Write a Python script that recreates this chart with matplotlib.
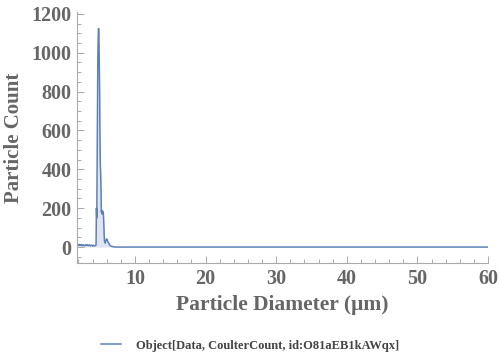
import matplotlib
matplotlib.use('Agg')
import matplotlib.pyplot as plt
from matplotlib.ticker import MultipleLocator

# Coulter counter histogram: diameter (um) vs particle count
diameter = [1.8, 1.9, 2.0, 2.1, 2.2, 2.3, 2.4, 2.5, 2.6, 2.7, 2.8, 2.9, 3.0,
            3.1, 3.2, 3.3, 3.4, 3.5, 3.6, 3.7, 3.8, 3.9, 4.0, 4.1, 4.2, 4.3,
            4.4, 4.5, 4.55, 4.6, 4.65, 4.7, 4.75, 4.8, 4.85, 4.9, 4.95, 5.0,
            5.05, 5.1, 5.15, 5.2, 5.25, 5.3, 5.35, 5.4, 5.45, 5.5, 5.55, 5.6,
            5.65, 5.7, 5.75, 5.8, 5.85, 5.9, 5.95, 6.0, 6.1, 6.2, 6.3, 6.4,
            6.5, 6.6, 6.7, 6.8, 6.9, 7.0, 7.1, 7.2, 7.3, 7.5, 8.0, 9.0, 10.0,
            20.0, 30.0, 40.0, 50.0, 60.0]
count = [8, 12, 10, 14, 9, 11, 13, 7, 10, 12, 9, 6, 11, 10, 8, 12, 7, 9, 11, 6,
         8, 10, 5, 9, 7, 6, 8, 10, 200, 150, 420, 700, 980, 1080, 1125, 1100,
         960, 820, 600, 430, 380, 300, 180, 190, 170, 185, 175, 180, 160, 120,
         60, 30, 25, 20, 28, 32, 38, 42, 35, 25, 20, 12, 8, 5, 4, 3, 2, 1, 1,
         0, 0, 0, 0, 0, 0, 0, 0, 0, 0, 0]

x_label = 'Particle Diameter (μm)'
y_label = 'Particle Count'
legend_label = 'Object[Data, CoulterCount, id:O81aEB1kAWqx]'

line_color = '#5E81B5'
gray = '#666666'
serif = ['Liberation Serif', 'DejaVu Serif']

fig = plt.figure(figsize=(5.0, 3.63), dpi=100)
ax = fig.add_axes([0.154, 0.2755, 0.822, 0.6915])

ax.fill_between(diameter, count, 0, color=line_color, alpha=0.2, lw=0)
ax.plot(diameter, count, color=line_color, lw=1.1, label=legend_label)

ax.set_xlim(1.8, 60)
ax.set_ylim(-82, 1210)
ax.xaxis.set_major_locator(MultipleLocator(10))
ax.xaxis.set_minor_locator(MultipleLocator(2))
ax.yaxis.set_major_locator(MultipleLocator(200))
ax.yaxis.set_minor_locator(MultipleLocator(50))

for side in ['top', 'right']:
    ax.spines[side].set_visible(False)
for side in ['left', 'bottom']:
    ax.spines[side].set_color('#aaaaaa')
    ax.spines[side].set_linewidth(0.8)

ax.tick_params(which='both', direction='in', color='#aaaaaa', width=0.7)
ax.tick_params(which='major', length=5, pad=4, labelsize=14.5, labelcolor=gray)
ax.tick_params(which='minor', length=3)
for lab in ax.get_xticklabels() + ax.get_yticklabels():
    lab.set_family(serif)
    lab.set_fontweight('bold')

ax.set_xlabel(x_label, family=serif, fontweight='bold', fontsize=15.5,
              color=gray, labelpad=5)
ax.set_ylabel(y_label, family=serif, fontweight='bold', fontsize=15,
              color=gray, labelpad=5)

leg = fig.legend(loc='lower center', bbox_to_anchor=(0.5, 0.0), frameon=False,
                 prop={'family': serif, 'weight': 'bold', 'size': 9},
                 handlelength=1.6, handletextpad=1.2)
for t in leg.get_texts():
    t.set_color('#444444')

fig.savefig('out.png', dpi=100)
